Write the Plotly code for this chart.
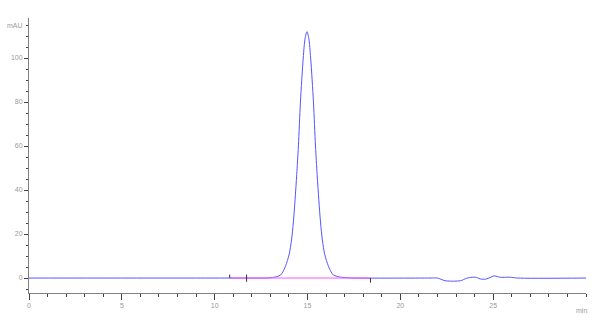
import plotly.graph_objects as go

# Chromatogram trace (time in min, signal in mAU)
time_min = [0.0, 10.8, 12.57, 12.87, 13.17, 13.37, 13.55, 13.67, 13.80, 13.92, 14.02,
            14.14, 14.24, 14.33, 14.42, 14.51, 14.62, 14.77, 14.87, 14.97,
            15.07, 15.17, 15.32, 15.43, 15.52, 15.61, 15.70, 15.80, 15.92, 16.02,
            16.14, 16.27, 16.39, 16.57, 16.77, 17.07, 17.5,
            21.6, 22.0, 22.2, 22.4, 22.7, 23.0, 23.3, 23.5, 23.8, 24.1, 24.3,
            24.6, 24.85, 25.05, 25.25, 25.45, 25.8, 26.0, 26.3, 30.0]
signal_mau = [0.0, 0.0, 0.0, 0.05, 0.3, 0.7, 1.4, 2.8, 5.1, 8.0, 11.0,
              17.3, 25.5, 35.5, 47.0, 60.0, 80.0, 100.0, 109.0, 112.0,
              109.0, 100.0, 80.0, 60.0, 47.0, 35.5, 25.5, 17.3, 11.0, 8.0,
              5.1, 2.8, 1.4, 0.8, 0.4, 0.15, 0.0,
              0.0, 0.0, -0.6, -1.2, -1.4, -1.4, -1.1, -0.3, 0.3, 0.3, -0.4,
              -0.5, 0.3, 1.0, 0.6, 0.3, 0.4, 0.3, 0.0, 0.0]

# Integration baseline
baseline_t = [10.81, 18.39]
baseline_v = [0.0, 0.0]

# Event marks (time, low, high)
mark_t = [10.81, 11.72, 18.39]
mark_lo = [0.0, -1.7, -2.1]
mark_hi = [1.6, 1.6, 0.0]

x_ticks = [0, 5, 10, 15, 20, 25]
y_ticks = [0, 20, 40, 60, 80, 100]
x_range = [0, 30]
y_range = [-6.8, 118.2]

fig = go.Figure()
fig.add_trace(go.Scatter(x=time_min, y=signal_mau, mode="lines",
                         line=dict(color="#5555ff", width=1, shape="spline", smoothing=0.8),
                         hoverinfo="skip"))
fig.add_trace(go.Scatter(x=baseline_t, y=baseline_v, mode="lines",
                         line=dict(color="#ff55ff", width=1), hoverinfo="skip"))
mx, my = [], []
for t, lo, hi in zip(mark_t, mark_lo, mark_hi):
    mx += [t, t, None]
    my += [lo, hi, None]
fig.add_trace(go.Scatter(x=mx, y=my, mode="lines",
                         line=dict(color="#303030", width=1), hoverinfo="skip"))

tickfont = dict(family="Liberation Sans, Arial", size=7, color="#9a9a9a")
fig.update_layout(
    width=600, height=326,
    margin=dict(l=29, r=14, t=18, b=33),
    paper_bgcolor="white", plot_bgcolor="white",
    showlegend=False,
    xaxis=dict(range=x_range, showgrid=False, zeroline=False, showline=True,
               automargin=False,
               linecolor="#808080", linewidth=1, ticks="outside", ticklen=6,
               tickcolor="#404040", tickvals=x_ticks, tickfont=tickfont,
               minor=dict(dtick=1, tick0=0, ticks="outside", ticklen=3, tickcolor="#404040")),
    yaxis=dict(range=y_range, showgrid=False, zeroline=False, showline=True,
               automargin=False,
               linecolor="#808080", linewidth=1, ticks="outside", ticklen=4,
               tickcolor="#404040", tickvals=y_ticks, tickfont=tickfont,
               minor=dict(dtick=5, tick0=0, ticks="outside", ticklen=2, tickcolor="#404040")),
    annotations=[
        dict(text="mAU", x=0, xref="paper", y=115, yref="y", xanchor="right",
             yanchor="middle", xshift=-4, showarrow=False, font=tickfont),
        dict(text="min", x=29.75, xref="x", y=0, yref="paper", xanchor="center",
             yanchor="top", yshift=-12, showarrow=False, font=tickfont),
    ],
)

fig.write_html("out.html")
